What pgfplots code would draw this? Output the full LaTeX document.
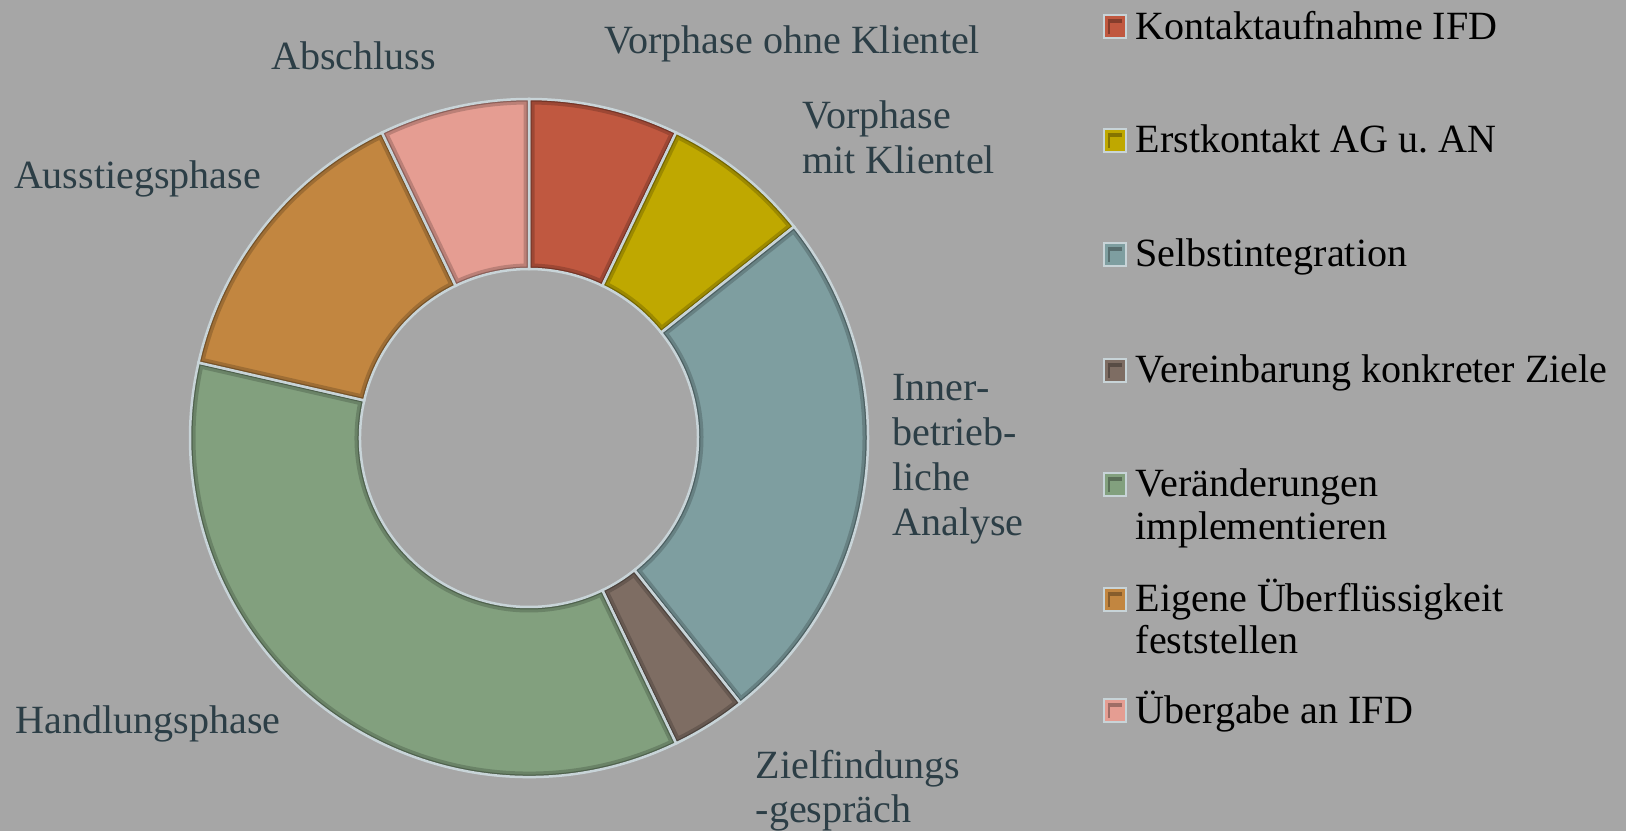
\documentclass[border=0pt]{standalone}
\usepackage{pgfplots}
\pgfplotsset{compat=1.18}
\usepackage{pgfplotstable}
\usepackage{fontspec}
\setmainfont{Liberation Serif}

\definecolor{bg}{RGB}{166,166,166}
\definecolor{lbl}{RGB}{44,62,70}
\definecolor{edge}{RGB}{200,212,216}
\definecolor{c0}{RGB}{192,88,64}
\definecolor{c1}{RGB}{191,168,0}
\definecolor{c2}{RGB}{126,158,160}
\definecolor{c3}{RGB}{126,109,99}
\definecolor{c4}{RGB}{130,160,126}
\definecolor{c5}{RGB}{194,134,64}
\definecolor{c6}{RGB}{229,157,146}

% slice values (clockwise from 12 o'clock)
\pgfplotstableread{
name value
Kontaktaufnahme 2
Erstkontakt 2
Selbstintegration 7
Vereinbarung 1
Veraenderungen 10
Ueberfluessigkeit 4
Uebergabe 2
}\slices

\pgfplotstablegetrowsof{\slices}
\pgfmathtruncatemacro{\nrows}{\pgfplotsretval-1}
\gdef\total{0}
\foreach \i in {0,...,\nrows}{%
  \pgfplotstablegetelem{\i}{value}\of{\slices}%
  \pgfmathsetmacro{\t}{\total+\pgfplotsretval}%
  \xdef\total{\t}%
}
\gdef\cum{0}
\foreach \i in {0,...,\nrows}{%
  \pgfplotstablegetelem{\i}{value}\of{\slices}%
  \pgfmathsetmacro{\c}{\cum+\pgfplotsretval}%
  \pgfmathsetmacro{\aa}{90-\cum/\total*360}%
  \pgfmathsetmacro{\bb}{90-\c/\total*360}%
  \expandafter\xdef\csname ca\i\endcsname{\aa}%
  \expandafter\xdef\csname cb\i\endcsname{\bb}%
  \xdef\cum{\c}%
}

\tikzset{slice/.style={insert path={
  ([shift={(\csname ca#1\endcsname:3.39cm)}]axis cs:529,438)
  arc[start angle=\csname ca#1\endcsname, end angle=\csname cb#1\endcsname, radius=3.39cm]
  -- ([shift={(\csname cb#1\endcsname:1.69cm)}]axis cs:529,438)
  arc[start angle=\csname cb#1\endcsname, end angle=\csname ca#1\endcsname, radius=1.69cm]
  -- cycle}}}

\newcommand\lb{\fontsize{11.4pt}{13pt}\selectfont}

\begin{document}
\begin{tikzpicture}
\begin{axis}[
  width=16.26cm, height=8.31cm, scale only axis,
  xmin=0, xmax=1626, ymin=0, ymax=831, y dir=reverse,
  hide axis, clip=false]
\fill[bg] (axis cs:0,0) rectangle (axis cs:1626,831);

\pgfplotsinvokeforeach{0,...,6}{
  \fill[c#1, slice=#1];
  \begin{scope}
    \clip[slice=#1];
    \draw[c#1!40!black, opacity=0.3, line width=1.1mm, slice=#1];
    \draw[c#1!40!black, opacity=0.5, line width=0.5mm, slice=#1];
  \end{scope}
  \draw[edge, line width=0.25mm, slice=#1];
}

% phase labels
\begin{scope}[every node/.style={anchor=base west, inner sep=0pt, text=lbl, font=\lb}]
\node at (axis cs:604,53.3) {Vorphase ohne Klientel};
\node at (axis cs:801.7,128.3) {Vorphase};
\node at (axis cs:801.7,173.3) {mit Klientel};
\node at (axis cs:891.7,400) {Inner-};
\node at (axis cs:891.7,445) {betrieb-};
\node at (axis cs:891.7,490) {liche};
\node at (axis cs:891.7,535) {Analyse};
\node at (axis cs:755,778.3) {Zielfindungs};
\node at (axis cs:755,822.5) {-gespräch};
\node at (axis cs:15,733.3) {Handlungsphase};
\node at (axis cs:13.3,188.3) {Ausstiegsphase};
\node at (axis cs:270.7,69.3) {Abschluss};
\end{scope}

% legend
\begin{scope}[every node/.style={anchor=base west, inner sep=0pt, text=black, font=\lb}]
\node at (axis cs:1135,39.3) {Kontaktaufnahme IFD};
\node at (axis cs:1135,152.7) {Erstkontakt AG u.\ AN};
\node at (axis cs:1135,266.7) {Selbstintegration};
\node at (axis cs:1135,382.7) {Vereinbarung konkreter Ziele};
\node at (axis cs:1135,496.7) {Veränderungen};
\node at (axis cs:1135,539.3) {implementieren};
\node at (axis cs:1135,611.7) {Eigene Überflüssigkeit};
\node at (axis cs:1135,653.3) {feststellen};
\node at (axis cs:1135,723.3) {Übergabe an IFD};
\end{scope}
\foreach \k/\yb in {0/39.3,1/152.7,2/266.7,3/382.7,4/496.7,5/611.7,6/723.3}{
  \edef\tmp{\noexpand\fill[c\k, draw=edge, line width=0.2mm] (axis cs:1104,\yb-24) rectangle (axis cs:1126,\yb-1);
  \noexpand\fill[c\k!45!black, opacity=0.55] (axis cs:1108,\yb-20) rectangle (axis cs:1122,\yb-5);
  \noexpand\fill[c\k] (axis cs:1110,\yb-16) rectangle (axis cs:1122,\yb-5);}
  \tmp
}
\end{axis}
\pgfresetboundingbox
\path[use as bounding box] (current axis.south west) rectangle (current axis.north east);
\end{tikzpicture}
\end{document}
